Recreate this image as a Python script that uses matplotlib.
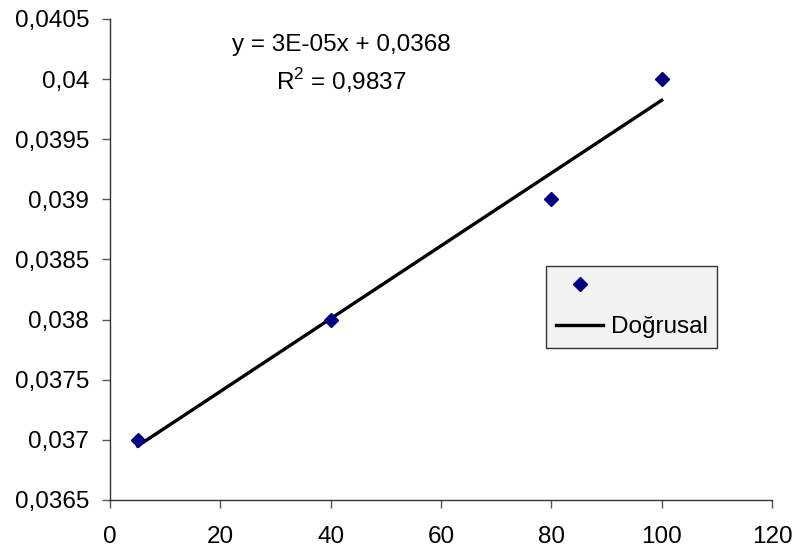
import matplotlib
matplotlib.use("Agg")
import matplotlib.pyplot as plt
import numpy as np
from matplotlib.ticker import FuncFormatter

x_vals = [5, 40, 80, 100]
y_vals = [0.037, 0.038, 0.039, 0.040]
trend_label = "Doğrusal"
eq_text = "y = 3E-05x + 0,0368"
r2_text = "R$^2$ = 0,9837"

plt.rcParams["font.family"] = ["Liberation Sans", "DejaVu Sans"]
plt.rcParams["mathtext.fontset"] = "custom"
plt.rcParams["mathtext.rm"] = "Liberation Sans"

fig = plt.figure(figsize=(7.95, 5.55), dpi=100)
ax = fig.add_axes([0.1384, 0.0991, 0.8327, 0.8667])

# trend line from least squares fit
coef = np.polyfit(x_vals, y_vals, 1)
xs = np.array([min(x_vals), max(x_vals)])
ln, = ax.plot(xs, np.polyval(coef, xs), color="black", lw=2.4, zorder=2)
sc, = ax.plot(x_vals, y_vals, linestyle="none", marker="D", markersize=7.5,
              color="#000080", zorder=3)

ax.set_xlim(0, 120)
ax.set_ylim(0.0365, 0.0405)
ax.set_xticks(np.arange(0, 121, 20))
ax.set_yticks(np.arange(0.0365, 0.04051, 0.0005))


def comma_fmt(v, pos):
    s = f"{v:.4f}".rstrip("0").rstrip(".")
    return s.replace(".", ",")


ax.yaxis.set_major_formatter(FuncFormatter(comma_fmt))
ax.tick_params(labelsize=17.5, length=6, width=1, color="#555555", direction="out")
ax.tick_params(axis="x", pad=13)
ax.tick_params(axis="y", pad=9)
for s in ["top", "right"]:
    ax.spines[s].set_visible(False)
for s in ["left", "bottom"]:
    ax.spines[s].set_color("#333333")
    ax.spines[s].set_linewidth(1)

ax.text(0.35, 0.946, eq_text, transform=ax.transAxes, ha="center", va="center", fontsize=17.5)
ax.text(0.35, 0.873, r2_text, transform=ax.transAxes, ha="center", va="center", fontsize=17.5)

leg = ax.legend([sc, ln], ["", trend_label], loc="upper left",
                bbox_to_anchor=(0.659, 0.486), borderaxespad=0, fontsize=17.5,
                frameon=True, fancybox=False, handlelength=1.95, handletextpad=0.3,
                labelspacing=0.75, borderpad=0.4)
leg.get_frame().set_facecolor("#f2f2f2")
leg.get_frame().set_edgecolor("#333333")
leg.get_frame().set_linewidth(1)
leg.get_frame().set_alpha(1)

fig.savefig("out.png", dpi=100)
